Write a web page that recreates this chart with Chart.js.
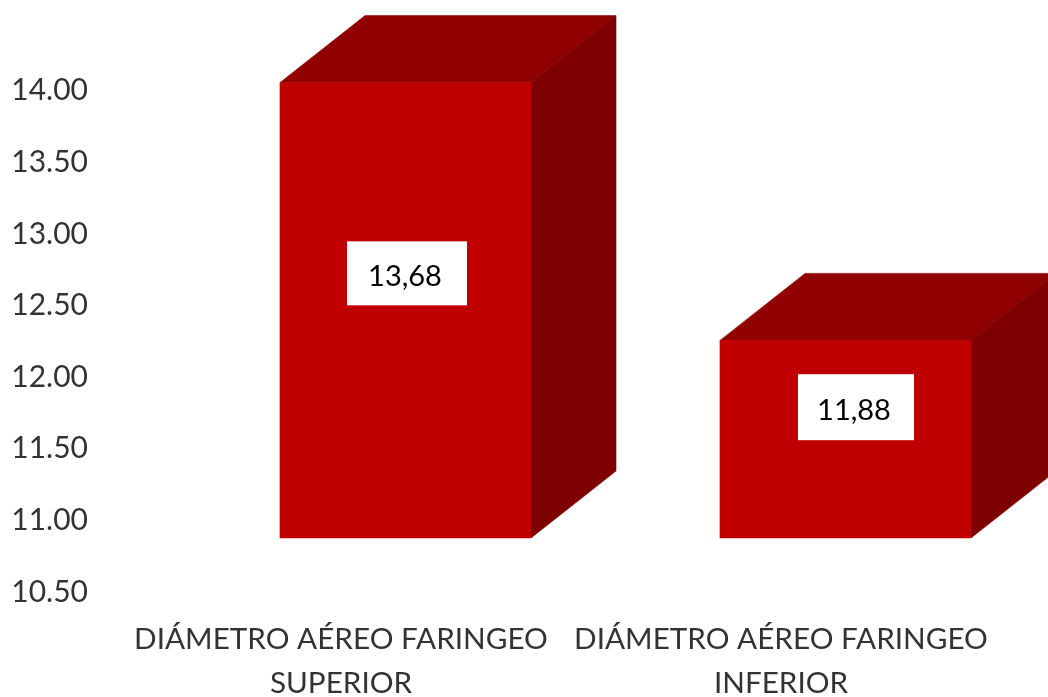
<!DOCTYPE html>
<html>
<head>
<meta charset="utf-8">
<title>Diámetro aéreo faríngeo</title>
<script src="https://cdn.jsdelivr.net/npm/chart.js@4/dist/chart.umd.min.js"></script>
<style>
  html, body { margin: 0; padding: 0; background: #fff; overflow: hidden; }
  canvas { display: block; }
</style>
</head>
<body>
<canvas id="chart" width="1048" height="697"></canvas>
<script>
const categories = [
  ['DIÁMETRO AÉREO FARINGEO', 'SUPERIOR'],
  ['DIÁMETRO AÉREO FARINGEO', 'INFERIOR'],
];
const seriesValues = [13.68, 11.88];
const valueLabels = ['13,68', '11,88'];
const yTicks = [10.5, 11, 11.5, 12, 12.5, 13, 13.5, 14];

// ── Layout ────────────────────────────────────────────────────────────────────
const FONT = 'Lato, "Open Sans", sans-serif';
const TEXT_COLOR = '#333333';
const PLOT = { left: 121, right: 1001, top: 80, bottom: 592 };
const PX_PER_UNIT = 143.2;
const DEPTH = { x: 85, y: 67 };
const FRONT_SHIFT = { x: 64.5, y: 54 };  // front faces sit forward of the axis wall

const plotHeight = PLOT.bottom - PLOT.top;
const plotWidth = PLOT.right - PLOT.left;
const yMin = yTicks[0];
const yMax = yMin + plotHeight / PX_PER_UNIT;
const frontYMin = yMin - FRONT_SHIFT.y / PX_PER_UNIT;
const frontXMin = -0.5 - FRONT_SHIFT.x / (plotWidth / categories.length);

// ── 3D faces ──────────────────────────────────────────────────────────────────
function poly(ctx, color, pts) {
  ctx.fillStyle = color;
  ctx.strokeStyle = color;
  ctx.lineWidth = 0.6;
  ctx.beginPath();
  pts.forEach(([x, y], i) => (i ? ctx.lineTo(x, y) : ctx.moveTo(x, y)));
  ctx.closePath();
  ctx.fill();
  ctx.stroke();
}

const boxFaces = {
  id: 'boxFaces',
  beforeDatasetsDraw(chart) {
    const ctx = chart.ctx;
    chart.getDatasetMeta(0).data.forEach(bar => {
      const l = bar.x - bar.width / 2;
      const r = bar.x + bar.width / 2;
      const t = bar.y;
      const b = bar.base;
      poly(ctx, '#900000', [[l, t], [l + DEPTH.x, t - DEPTH.y], [r + DEPTH.x, t - DEPTH.y], [r, t]]);
      poly(ctx, '#7E0000', [[r, t], [r + DEPTH.x, t - DEPTH.y], [r + DEPTH.x, b - DEPTH.y], [r, b]]);
    });
  },
};

// ── Value boxes ───────────────────────────────────────────────────────────────
const boxes = [
  { dx: 1.5, dy: -37, w: 120, h: 64 },
  { dx: 10.5, dy: -32, w: 116, h: 66 },
];

const valueBoxes = {
  id: 'valueBoxes',
  afterDatasetsDraw(chart) {
    const ctx = chart.ctx;
    chart.getDatasetMeta(0).data.forEach((bar, i) => {
      const cx = bar.x + boxes[i].dx;
      const cy = (bar.y + bar.base) / 2 + boxes[i].dy;
      ctx.fillStyle = '#ffffff';
      ctx.fillRect(cx - boxes[i].w / 2, cy - boxes[i].h / 2, boxes[i].w, boxes[i].h);
      ctx.fillStyle = '#000000';
      ctx.font = `29px ${FONT}`;
      ctx.textAlign = 'center';
      ctx.textBaseline = 'middle';
      ctx.fillText(valueLabels[i], cx - 2, cy + 3);
    });
  },
};

new Chart(document.getElementById('chart'), {
  type: 'bar',
  data: {
    labels: categories,
    datasets: [{
      data: seriesValues.map((v, i) => ({ x: i, y: v })),
      xAxisID: 'xFront',
      yAxisID: 'yFront',
      backgroundColor: '#C00000',
      borderWidth: 0,
      barThickness: 251,
      base: yMin,
      clip: false,
    }],
  },
  plugins: [boxFaces, valueBoxes],
  options: {
    responsive: false,
    animation: false,
    layout: { padding: { top: PLOT.top, right: 1048 - PLOT.right, bottom: 0, left: 0 } },
    plugins: { legend: { display: false }, tooltip: { enabled: false } },
    scales: {
      x: {
        type: 'category',
        position: 'bottom',
        grid: { display: false },
        border: { display: false },
        ticks: {
          color: TEXT_COLOR,
          font: { family: FONT, size: 29.7, lineHeight: 44 / 29.7 },
          maxRotation: 0,
          autoSkip: false,
          padding: 17,
        },
        afterFit(scale) { scale.height = 697 - PLOT.bottom; },
      },
      y: {
        type: 'linear',
        position: 'left',
        min: yMin,
        max: yMax,
        grid: { display: false },
        border: { display: false },
        afterBuildTicks(scale) { scale.ticks = yTicks.map(value => ({ value })); },
        ticks: {
          color: TEXT_COLOR,
          font: { family: FONT, size: 30 },
          padding: 25,
          callback: v => v.toFixed(2),
        },
        afterFit(scale) { scale.width = PLOT.left; },
      },
      // hidden scales the front faces hang from
      xFront: {
        type: 'linear',
        display: false,
        offset: false,
        min: frontXMin,
        max: frontXMin + categories.length,
      },
      yFront: {
        type: 'linear',
        display: false,
        min: frontYMin,
        max: frontYMin + plotHeight / PX_PER_UNIT,
      },
    },
  },
});
</script>
</body>
</html>
